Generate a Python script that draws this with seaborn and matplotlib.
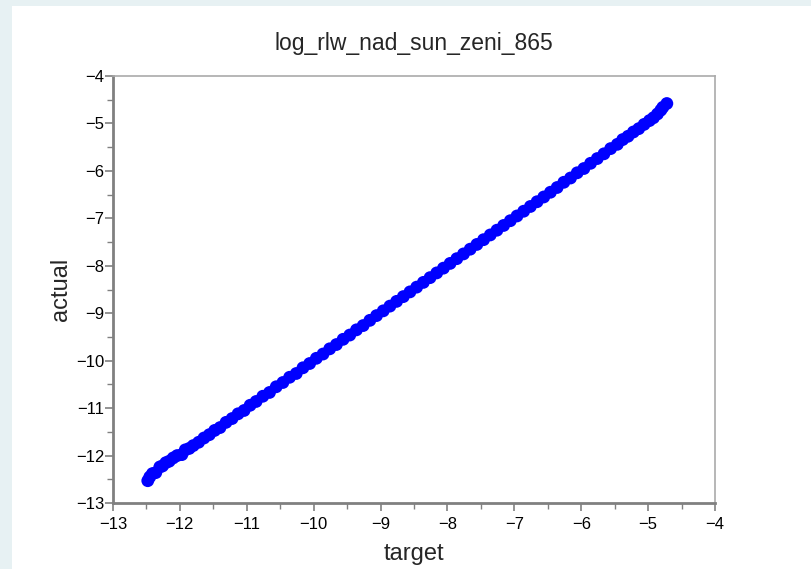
import matplotlib
matplotlib.use("Agg")
import matplotlib.pyplot as plt
import matplotlib.patches as mpatches
from matplotlib.ticker import MultipleLocator
import seaborn as sns
import pandas as pd

title = "log_rlw_nad_sun_zeni_865"
x_label = "target"
y_label = "actual"
x_ticks = [-13, -12, -11, -10, -9, -8, -7, -6, -5, -4]
y_ticks = [-13, -12, -11, -10, -9, -8, -7, -6, -5, -4]

target = [-12.48, -12.45, -12.41, -12.36, -12.30, -12.26, -12.21, -12.16, -12.10, -12.04,
          -11.97, -11.92, -11.86, -11.80, -11.72, -11.64, -11.56, -11.48, -11.40, -11.31,
          -11.22, -11.13, -11.04, -10.95, -10.86, -10.76, -10.66, -10.56, -10.46, -10.36,
          -10.26, -10.16, -10.06, -9.96, -9.86, -9.76, -9.66, -9.56, -9.46, -9.36,
          -9.26, -9.16, -9.06, -8.96, -8.86, -8.76, -8.66, -8.56, -8.46, -8.36,
          -8.26, -8.16, -8.06, -7.96, -7.86, -7.76, -7.66, -7.56, -7.46, -7.36,
          -7.26, -7.16, -7.06, -6.96, -6.86, -6.76, -6.66, -6.56, -6.46, -6.36,
          -6.26, -6.16, -6.06, -5.96, -5.86, -5.76, -5.66, -5.56, -5.46, -5.38,
          -5.30, -5.22, -5.14, -5.06, -4.98, -4.92, -4.86, -4.81, -4.78, -4.72]
actual = [-12.53, -12.45, -12.38, -12.36, -12.24, -12.22, -12.15, -12.12, -12.05, -12.00,
          -11.98, -11.88, -11.85, -11.79, -11.72, -11.63, -11.56, -11.47, -11.41, -11.30,
          -11.22, -11.12, -11.05, -10.94, -10.86, -10.75, -10.67, -10.55, -10.46, -10.35,
          -10.27, -10.15, -10.06, -9.95, -9.86, -9.75, -9.66, -9.55, -9.46, -9.35,
          -9.26, -9.15, -9.05, -8.95, -8.85, -8.75, -8.65, -8.55, -8.45, -8.35,
          -8.25, -8.15, -8.05, -7.95, -7.85, -7.75, -7.65, -7.55, -7.45, -7.35,
          -7.25, -7.15, -7.05, -6.95, -6.85, -6.75, -6.65, -6.55, -6.45, -6.35,
          -6.24, -6.15, -6.04, -5.95, -5.84, -5.74, -5.64, -5.53, -5.44, -5.34,
          -5.27, -5.18, -5.11, -5.02, -4.94, -4.88, -4.80, -4.72, -4.66, -4.58]

df = pd.DataFrame({"target": target, "actual": actual})

sns.set_theme(style="white")
plt.rcParams["font.family"] = ["Liberation Sans", "DejaVu Sans"]

fig = plt.figure(figsize=(8.11, 5.69), dpi=100, facecolor="#e7f1f3")
bg = mpatches.Rectangle((12 / 811, 0), 1, 1 - 6 / 569,
                        transform=fig.transFigure, facecolor="white",
                        edgecolor="none", zorder=-10)
fig.patches.append(bg)
ax = fig.add_axes([113 / 811, 1 - 503 / 569, (715 - 113) / 811, (503 - 76) / 569])
ax.set_zorder(5)
ax.set_facecolor("white")

sns.scatterplot(data=df, x="target", y="actual", ax=ax, color="#0000ff",
                edgecolor="none", s=85, linewidth=0, legend=False)

ax.set_xlim(-13, -4)
ax.set_ylim(-13, -4)
ax.set_xticks(x_ticks)
ax.set_yticks(y_ticks)
ax.set_xticklabels([f"\u2212{abs(t)}" for t in x_ticks])
ax.set_yticklabels([f"\u2212{abs(t)}" for t in y_ticks])
ax.xaxis.set_minor_locator(MultipleLocator(0.5))
ax.yaxis.set_minor_locator(MultipleLocator(0.5))

for side in ["left", "bottom", "top", "right"]:
    ax.spines[side].set_visible(True)
    ax.spines[side].set_color("#aaaaaa")
    ax.spines[side].set_linewidth(1.2)
ax.spines["left"].set_color("#808080")
ax.spines["left"].set_linewidth(2.0)
ax.spines["bottom"].set_color("#808080")
ax.spines["bottom"].set_linewidth(2.0)

ax.tick_params(axis="y", which="major", direction="out", length=6, width=1.2,
               color="#808080", labelsize=12, labelcolor="black", pad=0, left=True)
ax.tick_params(axis="x", which="major", direction="out", length=6, width=1.2,
               color="#808080", labelsize=12, labelcolor="black", pad=4, bottom=True)
ax.tick_params(axis="both", which="minor", direction="out", length=4, width=1.0,
               color="#808080", bottom=True, left=True)

ax.set_xlabel(x_label, fontsize=17, labelpad=8)
ax.set_ylabel(y_label, fontsize=17, labelpad=3)
ax.set_title(title, fontsize=16.5, pad=19)

fig.savefig("out.png", dpi=100, facecolor=fig.get_facecolor())
